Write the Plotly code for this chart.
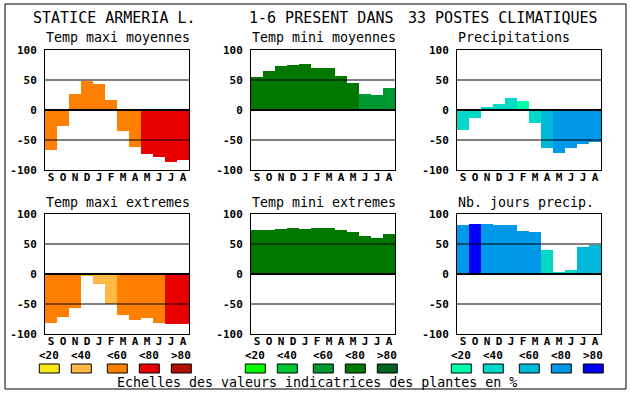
import plotly.graph_objects as go

# ---------------- data ----------------
months = ["S", "O", "N", "D", "J", "F", "M", "A", "M", "J", "J", "A"]

titles = ["Temp maxi moyennes", "Temp mini moyennes", "Precipitations",
          "Temp maxi extremes", "Temp mini extremes", "Nb. jours precip."]

tmax_moy = [-66, -26, 27, 49, 43, 17, -35, -61, -73, -78, -86, -83]
tmin_moy = [55, 65, 73, 75, 77, 70, 70, 57, 45, 27, 25, 37]
precip = [-33, -13, 5, 10, 20, 15, -21, -64, -71, -64, -56, -54]
tmax_ext = [-81, -71, -56, -4, -17, -50, -68, -76, -74, -81, -84, -84]
tmin_ext = [73, 73, 75, 77, 75, 77, 77, 73, 70, 63, 60, 67]
nb_jours = [82, 83, 83, 82, 82, 72, 70, 40, 3, 7, 45, 48]

# class of indicator value (0:<20, 1:<40, 2:<60, 3:<80, 4:>80)
tmax_moy_cls = [2, 2, 2, 2, 2, 2, 2, 2, 3, 3, 3, 3]
tmin_moy_cls = [3, 3, 3, 3, 3, 3, 3, 3, 3, 2, 2, 2]
precip_cls = [1, 1, 1, 1, 1, 0, 1, 2, 3, 3, 3, 3]
tmax_ext_cls = [2, 2, 2, 1, 1, 1, 2, 2, 2, 2, 3, 3]
tmin_ext_cls = [3, 3, 3, 3, 3, 3, 3, 3, 3, 3, 3, 3]
nb_jours_cls = [3, 4, 3, 3, 3, 3, 3, 1, 1, 1, 2, 2]

scale_labels = ["<20", "<40", "<60", "<80", ">80"]
y_ticks = [-100, -50, 0, 50, 100]
y_tick_labels = ["-100", "-50", "0", "50", "100"]

warm = ["#F8E818", "#FFB848", "#FF8000", "#E80000", "#B01000"]
green = ["#00FF00", "#00C830", "#009830", "#007800", "#006420"]
blue = ["#00FFA8", "#00D8C8", "#00B8D8", "#0098E8", "#0000F8"]

panels = [
    (tmax_moy, tmax_moy_cls, warm),
    (tmin_moy, tmin_moy_cls, green),
    (precip, precip_cls, blue),
    (tmax_ext, tmax_ext_cls, warm),
    (tmin_ext, tmin_ext_cls, green),
    (nb_jours, nb_jours_cls, blue),
]

# ---------------- layout geometry (px) ----------------
W, H = 630, 394
col_x = [(45, 189), (251, 395), (457, 601)]
row_y = [(50, 170), (214, 334)]
FONT = "DejaVu Sans Mono"

def px(x):
    return x / W

def py(y):
    return 1 - y / H

fig = go.Figure()
shapes = []
annotations = []

for i, (vals, cls, pal) in enumerate(panels):
    r, c = divmod(i, 3)
    n = i + 1
    xa = "x" if n == 1 else f"x{n}"
    ya = "y" if n == 1 else f"y{n}"
    fig.add_trace(go.Bar(
        x=list(range(len(months))), y=vals,
        marker=dict(color=[pal[k] for k in cls], line=dict(width=0)),
        width=1.0, xaxis=xa, yaxis=ya, showlegend=False, hoverinfo="skip",
    ))
    x0, x1 = col_x[c]
    y0, y1 = row_y[r]
    fig.layout[f"xaxis{'' if n == 1 else n}"] = dict(
        domain=[px(x0), px(x1)], anchor=ya, range=[-0.5, 11.5],
        tickvals=list(range(12)), ticktext=months, automargin=False,
        tickfont=dict(family=FONT, size=11, color="black", weight="bold"),
        ticks="", ticklabelstandoff=-3,
        showgrid=False, zeroline=False, showline=True, linecolor="black",
        linewidth=1, mirror=True, fixedrange=True,
    )
    fig.layout[f"yaxis{'' if n == 1 else n}"] = dict(
        domain=[py(y1), py(y0)], anchor=xa, range=[-100, 100],
        tickvals=y_ticks, ticktext=y_tick_labels, automargin=False,
        tickfont=dict(family=FONT, size=11, color="black", weight="bold"),
        ticks="outside", ticklen=5, tickcolor="rgba(0,0,0,0)",
        showgrid=False, zeroline=False, showline=True, linecolor="black",
        linewidth=1, mirror=True, fixedrange=True,
    )
    # horizontal reference lines drawn above bars
    for yv, lw in [(50, 1), (-50, 1), (0, 2)]:
        shapes.append(dict(type="line", xref=f"{xa} domain", yref=ya,
                           x0=0, x1=1, y0=yv, y1=yv, layer="above",
                           line=dict(color="black", width=lw)))
    # subplot title
    annotations.append(dict(text=titles[i], xref="paper", yref="paper",
                            x=px(x0 - 1), y=py(y0 - 12), xanchor="left", yanchor="middle",
                            showarrow=False,
                            font=dict(family=FONT, size=13.3, color="black")))
    # scale legend under bottom row
    if r == 1:
        centers = [4.3, 36.3, 72.3, 104.3, 136.3]
        for k, lab in enumerate(scale_labels):
            cx = x0 + centers[k]
            shapes.append(dict(type="rect", xref="paper", yref="paper",
                               x0=px(cx - 10), x1=px(cx + 10), y0=py(373), y1=py(364),
                               fillcolor=pal[k], line=dict(color="black", width=1)))
            annotations.append(dict(text=lab, xref="paper", yref="paper",
                                    x=px(cx), y=py(355), xanchor="center", yanchor="middle",
                                    showarrow=False,
                                    font=dict(family=FONT, size=11, color="black", weight="bold")))

# main titles
for txt, x in [("STATICE ARMERIA L.", 31), ("1-6 PRESENT DANS", 247), ("33 POSTES CLIMATIQUES", 406)]:
    annotations.append(dict(text=txt, xref="paper", yref="paper", x=px(x), y=py(18),
                            xanchor="left", yanchor="middle", showarrow=False,
                            font=dict(family=FONT, size=15, color="black")))

annotations.append(dict(text="Echelles des valeurs indicatrices des plantes en %",
                        xref="paper", yref="paper", x=px(115), y=py(382),
                        xanchor="left", yanchor="middle", showarrow=False,
                        font=dict(family=FONT, size=13.3, color="black")))

# outer frame
shapes.append(dict(type="rect", xref="paper", yref="paper",
                   x0=px(5), x1=px(626), y0=py(389), y1=py(4),
                   line=dict(color="black", width=1), fillcolor="rgba(0,0,0,0)"))

fig.update_layout(
    template="none",
    width=W, height=H, margin=dict(l=0, r=0, t=0, b=0, pad=0, autoexpand=False),
    paper_bgcolor="white", plot_bgcolor="white",
    shapes=shapes, annotations=annotations, bargap=0,
)

fig.write_html("out.html", config={"displayModeBar": False},
               post_script="document.body.style.margin='0';")
